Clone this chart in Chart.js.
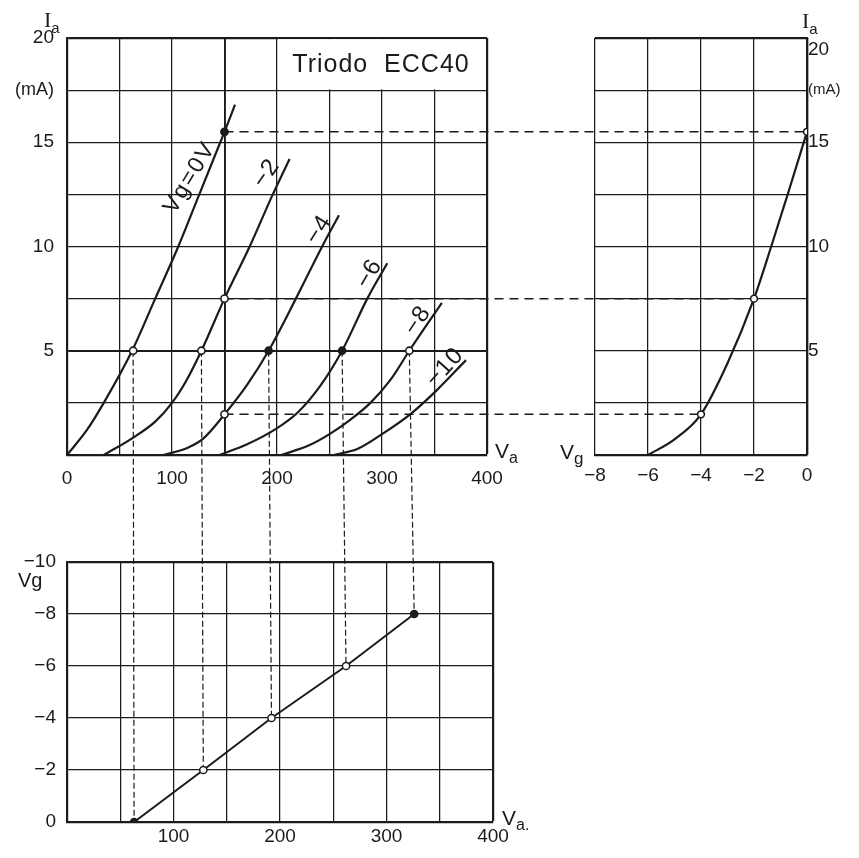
<!DOCTYPE html>
<html lang="es">
<head>
<meta charset="utf-8">
<title>Triodo ECC40</title>
<script src="https://cdn.jsdelivr.net/npm/chart.js@4.4.1/dist/chart.umd.min.js"></script>
<style>
  html, body { margin:0; padding:0; background:#ffffff; }
  #wrap { position:relative; width:859px; height:858px; overflow:hidden; background:#fff; }
  #wrap canvas { position:absolute; }
</style>
</head>
<body>
<div id="wrap">
  <canvas id="links" width="859" height="858" style="left:0;top:0"></canvas>
  <canvas id="cMain" width="540" height="500" style="left:0;top:0"></canvas>
  <canvas id="cRight" width="299" height="500" style="left:560px;top:0"></canvas>
  <canvas id="cBottom" width="540" height="338" style="left:0;top:520px"></canvas>
</div>
<script>
/* ================= DATA ================= */
const TITLE = 'Triodo  ECC40';
const gridVoltages = [0, -2, -4, -6, -8, -10];              // Vg of each plate curve (V)
const curveLabels  = ['Vg=0V', '\u22122', '\u22124', '\u22126', '\u22128', '\u221210'];

// plate characteristics Ia (mA) versus Va (V)
const vaVg0   = [0, 19, 35, 62, 84, 106, 126, 146, 150, 160];
const iaVg0   = [0, 1.2, 2.5, 5, 7.5, 10, 12.5, 15, 15.5, 16.8];
const vaVgm2  = [35, 62, 84, 100, 114, 128, 150, 174, 196, 212];
const iaVgm2  = [0, 0.8, 1.6, 2.5, 3.6, 5, 7.5, 10, 12.5, 14.2];
const vaVgm4  = [92, 115, 130, 150, 172, 192, 218, 243, 259];
const iaVgm4  = [0, 0.35, 0.8, 1.95, 3.4, 5, 7.5, 10, 11.5];
const vaVgm6  = [145, 171, 199, 220, 241, 262, 286, 305];
const iaVgm6  = [0, 0.5, 1.25, 2.05, 3.3, 5, 7.5, 9.2];
const vaVgm8  = [204, 230, 250, 270, 289, 308, 326, 357];
const iaVgm8  = [0, 0.45, 1.0, 1.7, 2.5, 3.6, 5, 7.3];
const vaVgm10 = [254, 277, 300, 328, 352, 380];
const iaVgm10 = [0, 0.3, 1.0, 2.0, 3.1, 4.55];

// operating points
const iaOperating = 5;                        // mA
const vaAt5mA = [63, 128, 192, 262, 326];     // Va giving 5 mA
const vgAt5mA = [0, -2, -4, -6, -8];
const vaFixed = 150;                          // V
const vgAt150 = [0, -2, -4];
const iaAt150 = [15.5, 7.5, 1.95];

// transfer characteristic Ia (mA) versus Vg (V) at Va = 150 V
const vgTransfer = [-6, -5, -4, -3, -2, -1.35, -0.68, 0];
const iaTransfer = [0, 0.75, 1.95, 4.4, 7.5, 10, 12.7, 15.5];

// tick labels
const iaTickValues   = [20, 17.5, 15, 10, 5];
const iaTickLabels   = ['20', '(mA)', '15', '10', '5'];
const vaTickValues   = [0, 100, 200, 300, 400];
const vaTickMain     = ['0', '100', '200', '300', '400'];
const vaTickBottom   = ['', '100', '200', '300', '400'];
const vgTickValues   = [-10, -8, -6, -4, -2, 0];
const vgTickLabels   = ['\u221210', '\u22128', '\u22126', '\u22124', '\u22122', '0'];

/* ================= STYLE / LAYOUT ================= */
const INK  = '#1b1b1b';
const FONT = '"Liberation Sans", Arial, sans-serif';
const SERIF = '"Liberation Serif", "DejaVu Serif", serif';
Chart.defaults.font.family = FONT;
Chart.defaults.color = INK;

// where the rotated curve captions sit (Va, Ia, angle in degrees)
const captionVa    = [117, 190, 240, 288, 334, 360];
const captionIa    = [13.3, 13.5, 10.8, 8.7, 6.45, 4.2];
const captionAngle = [-59, -55, -58, -60, -57, -48];

const toXY = (xs, ys) => xs.map((v, i) => ({ x: v, y: ys[i] }));
const lookup = (vals, labels, v) => {
  const i = vals.findIndex(t => Math.abs(t - v) < 1e-6);
  return i < 0 ? '' : labels[i];
};

function gridStyle(frame, bold) {
  return {
    color: INK,
    drawTicks: false,
    lineWidth: ctx => {
      const v = ctx.tick ? ctx.tick.value : null;
      if (frame.some(f => Math.abs(f - v) < 1e-6)) return 2.2;
      if (bold.some(f => Math.abs(f - v) < 1e-6)) return 1.9;
      return 1.25;
    }
  };
}
const borderStyle = { display: true, color: INK, width: 2.2 };
const fixW = w => (s => { s.width = w; });
const fixH = h => (s => { s.height = h; });

function subText(ctx, base, sub, x, y, baseFont, subFont, dy) {
  ctx.font = baseFont; ctx.textAlign = 'left'; ctx.textBaseline = 'alphabetic';
  ctx.fillText(base, x, y);
  const w = ctx.measureText(base).width;
  ctx.font = subFont;
  ctx.fillText(sub, x + w, y + dy);
}

const curveSets = [
  [vaVg0, iaVg0], [vaVgm2, iaVgm2], [vaVgm4, iaVgm4],
  [vaVgm6, iaVgm6], [vaVgm8, iaVgm8], [vaVgm10, iaVgm10]
];

const commonOpts = {
  responsive: false,
  animation: false,
  devicePixelRatio: 1,
  plugins: { legend: { display: false }, tooltip: { enabled: false } },
  elements: { point: { radius: 0 } }
};

/* ================= MAIN PANEL ================= */
const mainDecor = {
  id: 'mainDecor',
  beforeDatasetsDraw(chart) {
    const { ctx, scales: { x, y } } = chart;
    const l = x.getPixelForValue(200), r = x.getPixelForValue(400);
    const t = y.getPixelForValue(20), b = y.getPixelForValue(17.5);
    ctx.save();
    ctx.fillStyle = '#fff';
    ctx.fillRect(l + 1, t + 1.2, r - l - 2.3, b - t - 1.9);
    ctx.fillStyle = INK;
    ctx.font = '25px ' + FONT;
    ctx.letterSpacing = '1px';
    ctx.textAlign = 'center'; ctx.textBaseline = 'middle';
    ctx.fillText(TITLE, (l + r) / 2 - 1, (t + b) / 2 + 1);
    ctx.restore();
  },
  afterDatasetsDraw(chart) {
    const { ctx, chartArea: a, scales: { x, y } } = chart;
    ctx.save();
    ctx.fillStyle = INK;
    curveLabels.forEach((txt, i) => {
      ctx.save();
      ctx.translate(x.getPixelForValue(captionVa[i]), y.getPixelForValue(captionIa[i]));
      ctx.rotate(captionAngle[i] * Math.PI / 180);
      ctx.font = (i === 0 ? '23px ' : '24px ') + FONT;
      ctx.letterSpacing = i === 0 ? '2px' : '1px';
      ctx.textAlign = 'center'; ctx.textBaseline = 'middle';
      ctx.fillText(txt, 0, 0);
      ctx.restore();
    });
    subText(ctx, 'I', 'a', a.left - 23, a.top - 11, '22px ' + SERIF, '15px ' + FONT, 6);
    subText(ctx, 'V', 'a', a.right + 8, a.bottom + 3, '21px ' + FONT, '16px ' + FONT, 5);
    ctx.restore();
  }
};

const mainChart = new Chart(document.getElementById('cMain'), {
  type: 'line',
  data: {
    datasets: [
      {
        data: toXY(vaAt5mA.concat(vgAt150.map(() => vaFixed)),
                   vaAt5mA.map(() => iaOperating).concat(iaAt150)),
        showLine: false,
        pointRadius: 3.6, pointBorderWidth: 1.6, pointBorderColor: INK,
        pointBackgroundColor: ['#fff', '#fff', INK, INK, '#fff', INK, '#fff', '#fff']
      },
      ...curveSets.map(([xs, ys]) => ({
        data: toXY(xs, ys),
        borderColor: INK, borderWidth: 2.2,
        cubicInterpolationMode: 'monotone', pointRadius: 0
      }))
    ]
  },
  options: {
    ...commonOpts,
    layout: { padding: { left: 0, top: 38, right: 53, bottom: 0 } },
    scales: {
      x: {
        type: 'linear', min: 0, max: 400,
        grid: gridStyle([400], [150]), border: borderStyle,
        afterFit: fixH(45),
        ticks: {
          stepSize: 50, autoSkip: false, maxRotation: 0, padding: 12,
          font: { size: 19 },
          callback: v => lookup(vaTickValues, vaTickMain, v)
        }
      },
      y: {
        type: 'linear', min: 0, max: 20,
        grid: gridStyle([20], [5]), border: borderStyle,
        afterFit: fixW(67),
        ticks: {
          stepSize: 2.5, autoSkip: false, padding: 13,
          font: ctx => ({ size: ctx.tick && ctx.tick.value === 17.5 ? 18 : 19 }),
          callback: v => lookup(iaTickValues, iaTickLabels, v)
        }
      }
    }
  },
  plugins: [mainDecor]
});

/* ================= RIGHT PANEL (transfer) ================= */
const rightDecor = {
  id: 'rightDecor',
  afterDatasetsDraw(chart) {
    const { ctx, chartArea: a } = chart;
    ctx.save();
    ctx.fillStyle = INK;
    subText(ctx, 'I', 'a', a.right - 5, a.top - 10, '22px ' + SERIF, '15px ' + FONT, 6);
    subText(ctx, 'V', 'g', 0, a.bottom + 4, '21px ' + FONT, '17px ' + FONT, 5);
    ctx.restore();
  }
};

const rightChart = new Chart(document.getElementById('cRight'), {
  type: 'line',
  data: {
    datasets: [
      {
        data: toXY(vgAt150, iaAt150),
        showLine: false,
        pointRadius: 3.4, pointBorderWidth: 1.6, pointBorderColor: INK,
        pointBackgroundColor: '#fff'
      },
      {
        data: toXY(vgTransfer, iaTransfer),
        borderColor: INK, borderWidth: 2.2,
        cubicInterpolationMode: 'monotone', pointRadius: 0
      }
    ]
  },
  options: {
    ...commonOpts,
    layout: { padding: { left: 35, top: 38, right: 0, bottom: 0 } },
    scales: {
      x: {
        type: 'linear', min: -8, max: 0,
        grid: gridStyle([0], []), border: borderStyle,
        afterFit: fixH(45),
        ticks: {
          stepSize: 2, autoSkip: false, maxRotation: 0, padding: 9,
          font: { size: 19 },
          callback: v => lookup(vgTickValues, vgTickLabels, v)
        }
      },
      y: {
        type: 'linear', position: 'right', min: 0, max: 20,
        grid: gridStyle([20], []), border: borderStyle,
        afterFit: fixW(52),
        ticks: {
          stepSize: 2.5, autoSkip: false, padding: 1,
          font: ctx => ({ size: ctx.tick && ctx.tick.value === 17.5 ? 15 : 19 }),
          callback: v => {
            const s = lookup(iaTickValues, iaTickLabels, v);
            return v === 20 ? ['', s] : s;
          }
        }
      }
    }
  },
  plugins: [rightDecor]
});

/* ================= BOTTOM PANEL (Vg vs Va at 5 mA) ================= */
const bottomDecor = {
  id: 'bottomDecor',
  afterDatasetsDraw(chart) {
    const { ctx, chartArea: a } = chart;
    ctx.save();
    ctx.fillStyle = INK;
    ctx.font = '20px ' + FONT; ctx.textAlign = 'left'; ctx.textBaseline = 'alphabetic';
    ctx.fillText('Vg', 18, a.top + 25);
    subText(ctx, 'V', 'a.', a.right + 9, a.bottom + 3, '21px ' + FONT, '16px ' + FONT, 5);
    ctx.restore();
  }
};

const bottomChart = new Chart(document.getElementById('cBottom'), {
  type: 'line',
  data: {
    datasets: [
      {
        data: toXY(vaAt5mA, vgAt5mA),
        showLine: false,
        pointRadius: 3.6, pointBorderWidth: 1.5, pointBorderColor: INK,
        pointBackgroundColor: [INK, '#fff', '#fff', '#fff', INK]
      },
      {
        data: toXY(vaAt5mA, vgAt5mA),
        borderColor: INK, borderWidth: 2, tension: 0, pointRadius: 0
      }
    ]
  },
  options: {
    ...commonOpts,
    layout: { padding: { left: 0, top: 42, right: 47, bottom: 0 } },
    scales: {
      x: {
        type: 'linear', min: 0, max: 400,
        grid: gridStyle([400], []), border: borderStyle,
        afterFit: fixH(36),
        ticks: {
          stepSize: 50, autoSkip: false, maxRotation: 0, padding: 3,
          font: { size: 19 },
          callback: v => lookup(vaTickValues, vaTickBottom, v)
        }
      },
      y: {
        type: 'linear', min: -10, max: 0, reverse: true,
        grid: gridStyle([-10], []), border: borderStyle,
        afterFit: fixW(67),
        ticks: {
          stepSize: 2, autoSkip: false, padding: 11,
          font: { size: 19 },
          callback: v => lookup(vgTickValues, vgTickLabels, v)
        }
      }
    }
  },
  plugins: [bottomDecor]
});

/* ================= DASHED PROJECTION LINES ================= */
(function drawLinks() {
  const ctx = document.getElementById('links').getContext('2d');
  const P = (ch, xv, yv) => [
    ch.canvas.offsetLeft + ch.scales.x.getPixelForValue(xv),
    ch.canvas.offsetTop + ch.scales.y.getPixelForValue(yv)
  ];
  const seg = (a, b) => { ctx.beginPath(); ctx.moveTo(a[0], a[1]); ctx.lineTo(b[0], b[1]); ctx.stroke(); };
  ctx.strokeStyle = INK;
  ctx.lineWidth = 1.5;
  ctx.setLineDash([9, 6]);
  vgAt150.forEach((vg, i) => seg(P(mainChart, vaFixed, iaAt150[i]), P(rightChart, vg, iaAt150[i])));
  ctx.lineWidth = 1.2;
  ctx.setLineDash([6, 3]);
  vaAt5mA.forEach((va, i) => seg(P(mainChart, va, iaOperating), P(bottomChart, va, vgAt5mA[i])));
})();
</script>
</body>
</html>
